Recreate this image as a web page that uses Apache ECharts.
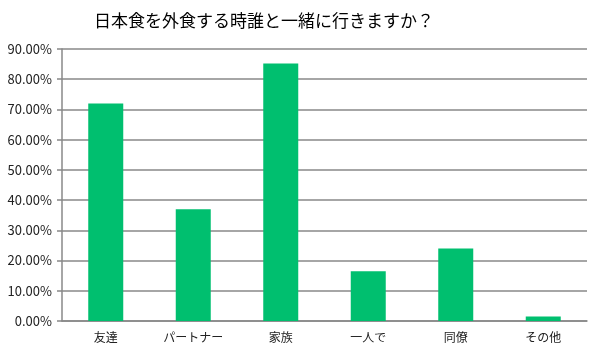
<!DOCTYPE html>
<html>
<head>
<meta charset="utf-8">
<script src="https://cdn.jsdelivr.net/npm/echarts@6/dist/echarts.min.js"></script>
<style>
html, body { margin: 0; padding: 0; background: #fff; }
#main { width: 600px; height: 354px; }
</style>
</head>
<body>
<div id="main"></div>
<script>
var myChart = echarts.init(document.getElementById('main'));

var titleText = '日本食を外食する時誰と一緒に行きますか？';
var categories = ['友達', 'パートナー', '家族', '一人で', '同僚', 'その他'];
var shares = [72.0, 37.0, 85.2, 16.5, 24.0, 1.5];

var font = '"Noto Sans CJK JP", "Noto Sans", sans-serif';

var option = {
    backgroundColor: '#ffffff',
    animation: false,
    title: {
        text: titleText,
        left: 89,
        top: 7,
        textStyle: {
            fontFamily: font,
            fontSize: 17,
            fontWeight: 'normal',
            color: '#000'
        }
    },
    grid: {
        left: 62,
        right: 13,
        top: 49,
        bottom: 33
    },
    xAxis: {
        type: 'category',
        data: categories,
        axisLine: { lineStyle: { color: '#888', width: 1.5 } },
        axisTick: { length: 5, lineStyle: { color: '#888', width: 1.5 } },
        axisLabel: {
            fontFamily: font,
            fontSize: 12,
            color: '#222',
            margin: 10
        }
    },
    yAxis: {
        type: 'value',
        min: 0,
        max: 90,
        interval: 10,
        axisLine: { show: true, lineStyle: { color: '#888', width: 1.5 } },
        axisTick: { show: true, length: 5, lineStyle: { color: '#888', width: 1.5 } },
        splitLine: { lineStyle: { color: '#888', width: 1.5 } },
        axisLabel: {
            fontFamily: font,
            fontSize: 13,
            color: '#222',
            margin: 10,
            formatter: function (v) { return v.toFixed(2) + '%'; }
        }
    },
    series: [
        {
            type: 'bar',
            data: shares,
            barWidth: 35,
            itemStyle: { color: '#00BF6F' }
        }
    ]
};

myChart.setOption(option);
</script>
</body>
</html>
